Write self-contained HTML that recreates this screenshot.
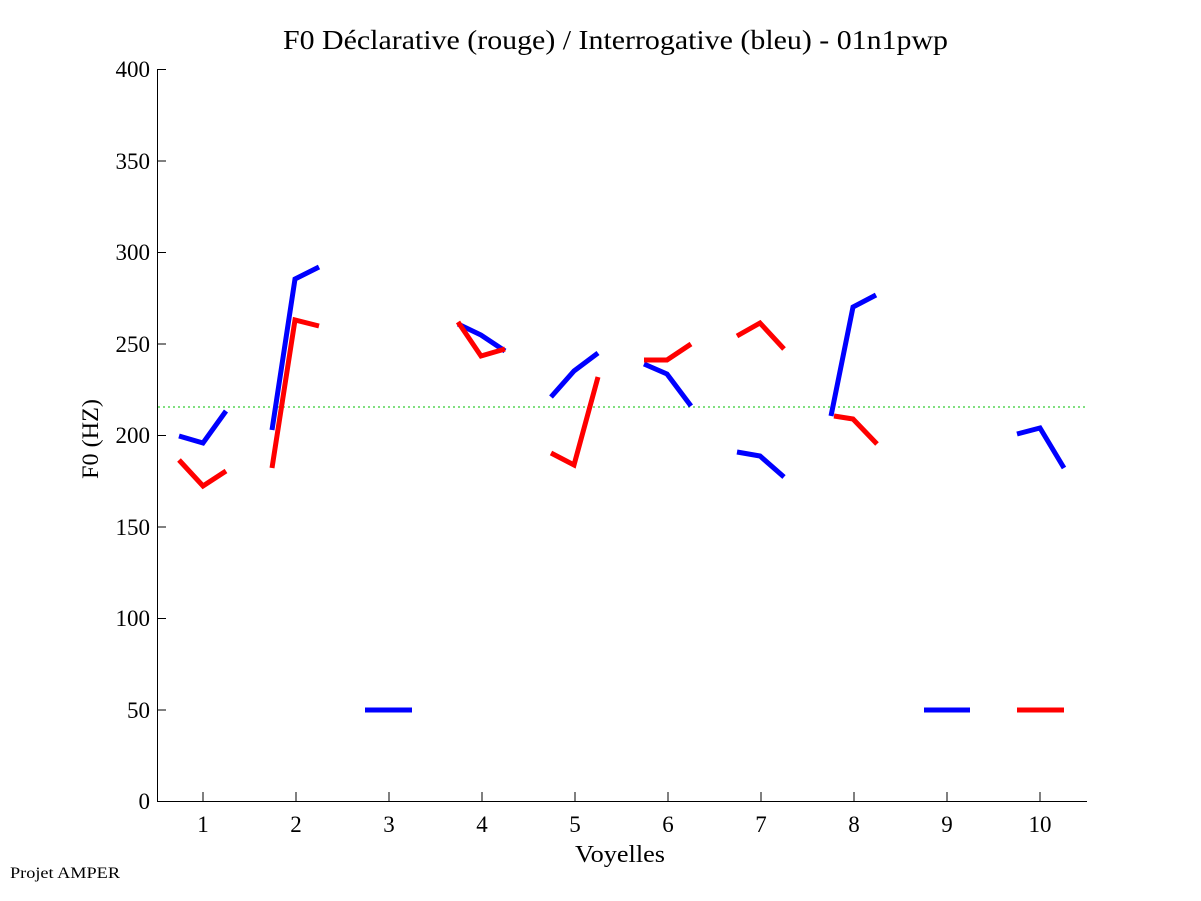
<!DOCTYPE html>
<html><head><meta charset="utf-8"><style>
html,body{margin:0;padding:0;background:#fff;}
svg{display:block;font-family:"Liberation Serif",serif;}
</style></head><body>
<svg width="1201" height="901" viewBox="0 0 1201 901" xmlns="http://www.w3.org/2000/svg">
<rect width="1201" height="901" fill="#fff"/>
<text x="283" y="49" font-size="27" textLength="665" lengthAdjust="spacingAndGlyphs">F0 Déclarative (rouge) / Interrogative (bleu) - 01n1pwp</text>
<g stroke="#000" stroke-width="1" fill="none">
<line x1="157.5" y1="69" x2="157.5" y2="802"/>
<line x1="157" y1="801.5" x2="1087" y2="801.5"/>
<g>
<line x1="157" y1="69.5" x2="166" y2="69.5"/><line x1="157" y1="161" x2="166" y2="161"/>
<line x1="157" y1="252.5" x2="166" y2="252.5"/><line x1="157" y1="344" x2="166" y2="344"/>
<line x1="157" y1="435.5" x2="166" y2="435.5"/><line x1="157" y1="527" x2="166" y2="527"/>
<line x1="157" y1="618.5" x2="166" y2="618.5"/><line x1="157" y1="710" x2="166" y2="710"/>
</g>
<g>
<line x1="203" y1="801" x2="203" y2="792"/><line x1="296" y1="801" x2="296" y2="792"/>
<line x1="389" y1="801" x2="389" y2="792"/><line x1="482" y1="801" x2="482" y2="792"/>
<line x1="575" y1="801" x2="575" y2="792"/><line x1="668" y1="801" x2="668" y2="792"/>
<line x1="761" y1="801" x2="761" y2="792"/><line x1="854" y1="801" x2="854" y2="792"/>
<line x1="947" y1="801" x2="947" y2="792"/><line x1="1040" y1="801" x2="1040" y2="792"/>
</g>
</g>
<g font-size="23" text-anchor="end">
<text x="150" y="77">400</text><text x="150" y="169">350</text><text x="150" y="260">300</text>
<text x="150" y="352">250</text><text x="150" y="443">200</text><text x="150" y="535">150</text>
<text x="150" y="626">100</text><text x="150" y="718">50</text><text x="150" y="809">0</text>
</g>
<g font-size="23" text-anchor="middle">
<text x="203" y="832">1</text><text x="296" y="832">2</text><text x="389" y="832">3</text>
<text x="482" y="832">4</text><text x="575" y="832">5</text><text x="668" y="832">6</text>
<text x="761" y="832">7</text><text x="854" y="832">8</text><text x="947" y="832">9</text>
<text x="1040" y="832">10</text>
</g>
<text x="575" y="862" font-size="24" textLength="90" lengthAdjust="spacingAndGlyphs">Voyelles</text>
<text x="0" y="0" font-size="23" text-anchor="middle" textLength="80" lengthAdjust="spacingAndGlyphs" transform="translate(98 439) rotate(-90)">F0 (HZ)</text>
<text x="10" y="878" font-size="16" textLength="110" lengthAdjust="spacingAndGlyphs">Projet AMPER</text>
<line x1="158" y1="407" x2="1087" y2="407" stroke="#00c000" stroke-width="1" stroke-dasharray="2,3"/>
<g fill="none" stroke-width="5" stroke="#0000ff">
<polyline points="179,436 203,443 226,411"/>
<polyline points="272,430 295,279 319,267"/>
<polyline points="365,710 412,710"/>
<polyline points="458,324 481,335 505,351"/>
<polyline points="551,397 574,371 598,353"/>
<polyline points="644,364 667,374 691,406"/>
<polyline points="737,452 760,456 784,477"/>
<polyline points="831,416 853,307 876,295"/>
<polyline points="924,710 970,710"/>
<polyline points="1017,434 1040,428 1064,468"/>
</g>
<g fill="none" stroke-width="5" stroke="#ff0000">
<polyline points="179,460 203,486 226,471"/>
<polyline points="272,468 295,320 319,326"/>
<polyline points="458,322 481,356 505,349"/>
<polyline points="551,453 574,465 598,377"/>
<polyline points="644,360 667,360 691,344"/>
<polyline points="737,336 760,323 784,349"/>
<polyline points="834,416 853,419 877,444"/>
<polyline points="1017,710 1064,710"/>
</g>
</svg>
</body></html>
